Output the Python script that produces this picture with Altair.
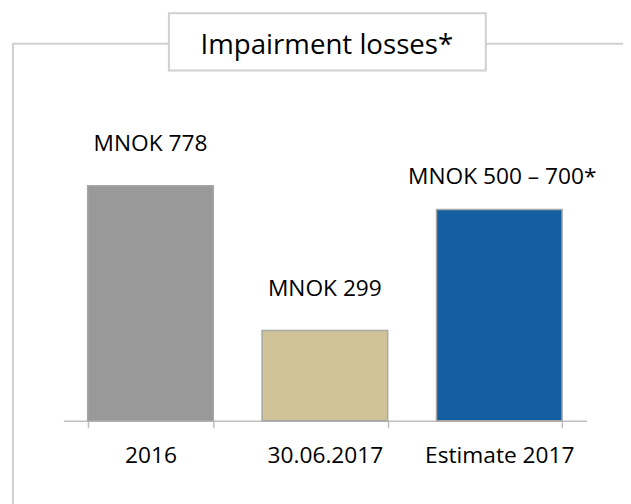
import altair as alt
import pandas as pd

# ---- data ----
title_text = "Impairment losses*"
categories = ["2016", "30.06.2017", "Estimate 2017"]
values = [778, 299, 700]
value_labels = ["MNOK 778", "MNOK 299", "MNOK 500 – 700*"]
bar_colors = ["#999999", "#CFC397", "#155FA0"]

df = pd.DataFrame({
    "category": categories,
    "value": values,
    "label": value_labels,
    "color": bar_colors,
})

FONT = "Open Sans"
FRAME = "#d0d0d0"

x_enc = alt.X(
    "category:N",
    sort=categories,
    scale=alt.Scale(paddingInner=0.28, paddingOuter=0.14),
    axis=alt.Axis(
        title=None, labelAngle=0, labelFont=FONT, labelFontSize=23,
        labelColor="#000000", domainColor="#bfbfbf", domainWidth=1.5,
        tickColor="#bfbfbf", tickWidth=1.5, tickSize=7, tickBand="extent",
        labelPadding=17, grid=False,
    ),
)
y_enc = alt.Y("value:Q", scale=alt.Scale(domain=[0, 1000], nice=False), axis=None)

base = alt.Chart(df)

bars = base.mark_bar(stroke="#a6a6a6", strokeWidth=1.5).encode(
    x=x_enc, y=y_enc, color=alt.Color("color:N", scale=None)
)

labels_a = base.transform_filter(alt.datum.category != categories[2]).mark_text(
    font=FONT, fontSize=23, color="#000000", baseline="alphabetic", dy=-35
).encode(x=x_enc, y=y_enc, text="label:N")

labels_b = base.transform_filter(alt.datum.category == categories[2]).mark_text(
    font=FONT, fontSize=23, color="#000000", baseline="alphabetic", dy=-26, dx=3
).encode(x=x_enc, y=y_enc, text="label:N")

one = pd.DataFrame({"k": [0]})
frame_left = alt.Chart(one).mark_rule(color=FRAME, strokeWidth=2).encode(
    x=alt.value(-51), y=alt.value(-76), y2=alt.value(420)
)
frame_top = alt.Chart(one).mark_rule(color=FRAME, strokeWidth=2).encode(
    x=alt.value(-52), x2=alt.value(620), y=alt.value(-76)
)
title_box = alt.Chart(one).mark_rect(fill="white", stroke=FRAME, strokeWidth=2).encode(
    x=alt.value(107), x2=alt.value(428), y=alt.value(-107), y2=alt.value(-49)
)
title = alt.Chart(pd.DataFrame({"t": [title_text]})).mark_text(
    font=FONT, fontSize=28, color="#000000", baseline="alphabetic", align="center"
).encode(x=alt.value(267), y=alt.value(-66), text="t:N")

chart = alt.layer(
    frame_left, frame_top, title_box, title, bars, labels_a, labels_b
).properties(
    width=530, height=306,
    autosize=alt.AutoSizeParams(type="none"),
    padding={"left": 56, "top": 109, "right": 37, "bottom": 81},
).configure_view(stroke=None)

chart.save("out.html", embed_options={"renderer": "svg", "actions": False})
